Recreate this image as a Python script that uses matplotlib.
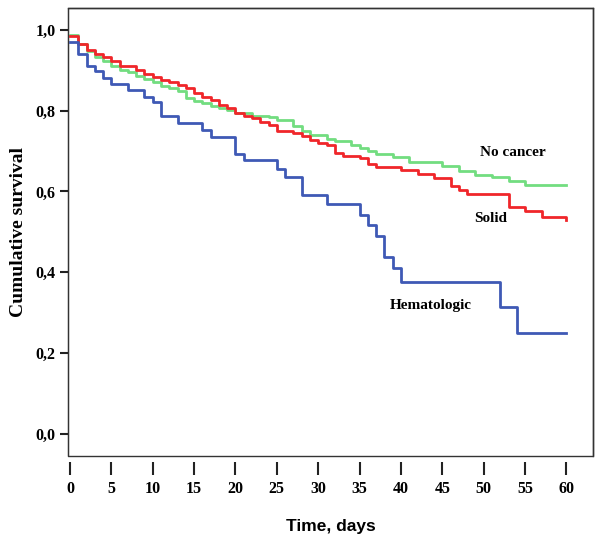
import matplotlib
matplotlib.use("Agg")
import matplotlib.pyplot as plt
from matplotlib.patches import Rectangle
from matplotlib.ticker import FuncFormatter

# step curves (day of drop, survival after drop)
hem_days = [0, 1, 2, 3, 4, 5, 7, 9, 10, 11, 13, 16, 17, 20, 21, 25, 26, 28, 31,
            35, 36, 37, 38, 39, 40, 52, 54, 60]
hem_surv = [0.970, 0.941, 0.911, 0.899, 0.880, 0.865, 0.851, 0.835, 0.821, 0.786,
            0.769, 0.752, 0.734, 0.694, 0.677, 0.655, 0.635, 0.592, 0.568,
            0.542, 0.516, 0.490, 0.437, 0.410, 0.377, 0.315, 0.251, 0.251]

solid_days = [0, 1, 2, 3, 4, 5, 6, 8, 9, 10, 11, 12, 13, 14, 15, 16, 17, 18, 19,
              20, 21, 22, 23, 24, 25, 27, 28, 29, 30, 31, 32, 33, 35, 36, 37, 40,
              42, 44, 46, 47, 48, 53, 55, 57, 60]
solid_surv = [0.985, 0.965, 0.949, 0.941, 0.932, 0.924, 0.911, 0.901, 0.891, 0.883,
              0.875, 0.870, 0.864, 0.855, 0.843, 0.835, 0.827, 0.814, 0.806,
              0.794, 0.788, 0.781, 0.773, 0.765, 0.750, 0.744, 0.737, 0.728, 0.721,
              0.715, 0.696, 0.688, 0.682, 0.668, 0.660, 0.652,
              0.644, 0.633, 0.614, 0.604, 0.594, 0.561, 0.551, 0.538, 0.530]

nocan_days = [0, 1, 2, 3, 4, 5, 6, 7, 8, 9, 10, 11, 12, 13, 14, 15, 16, 17, 18, 19,
              20, 22, 24, 25, 27, 28, 29, 31, 32, 34, 35, 36, 37, 39, 41,
              45, 47, 49, 51, 53, 55, 60]
nocan_surv = [0.988, 0.965, 0.947, 0.932, 0.922, 0.911, 0.901, 0.895, 0.886, 0.878,
              0.870, 0.861, 0.856, 0.848, 0.831, 0.825, 0.818, 0.812, 0.806, 0.802,
              0.794, 0.787, 0.784, 0.777, 0.762, 0.749, 0.740, 0.729, 0.724, 0.715,
              0.707, 0.699, 0.693, 0.686, 0.674,
              0.662, 0.650, 0.641, 0.637, 0.625, 0.615, 0.615]

x_ticks = [0, 5, 10, 15, 20, 25, 30, 35, 40, 45, 50, 55, 60]
y_ticks = [0.0, 0.2, 0.4, 0.6, 0.8, 1.0]

serif = ["Liberation Serif", "DejaVu Serif"]

fig = plt.figure(figsize=(6.0, 5.41), dpi=100)
ax = fig.add_axes([0.1133, 0.1571, 0.875, 0.8281])

ax.step(nocan_days, nocan_surv, where="post", color="#72dd80", lw=2.0)
ax.step(solid_days, solid_surv, where="post", color="#f0262a", lw=2.0)
ax.step(hem_days, hem_surv, where="post", color="#3f59b5", lw=2.0)

ax.set_xlim(-0.24, 63.2)
ax.set_ylim(-0.0545, 1.054)

# box frame drawn separately so x ticks can sit below it with a gap
for s in ["top", "right"]:
    ax.spines[s].set_color("#333333")
    ax.spines[s].set_linewidth(1.0)
ax.spines["left"].set_color("#333333")
ax.spines["bottom"].set_position(("outward", 4))
ax.spines["bottom"].set_visible(False)
ax.add_patch(Rectangle((0, 0), 1, 1, transform=ax.transAxes, fill=False,
                       edgecolor="#333333", lw=1.0, clip_on=False))

ax.set_xticks(x_ticks)
ax.set_yticks(y_ticks)
ax.yaxis.set_major_formatter(FuncFormatter(lambda v, p: f"{v:.1f}".replace(".", ",")))
ax.tick_params(axis="x", direction="out", length=9, width=1.5, pad=5, color="#222222")
ax.tick_params(axis="y", direction="out", length=6, width=1.5, pad=3, color="#222222")
for lab in ax.get_xticklabels() + ax.get_yticklabels():
    lab.set_family(serif)
    lab.set_fontweight("bold")
    lab.set_fontsize(11.5)

ax.set_ylabel("Cumulative survival", family=serif, fontweight="bold", fontsize=14, labelpad=6)
ax.set_xlabel("Time, days", family=["Liberation Sans", "DejaVu Sans"], fontweight="bold",
              fontsize=12.5, labelpad=16)

txt = dict(family=serif, fontweight="bold", fontsize=11, ha="center", va="center")
ax.text(53.5, 0.697, "No cancer", **txt)
ax.text(50.8, 0.532, "Solid", **txt)
ax.text(43.6, 0.317, "Hematologic", **txt)

fig.savefig("out.png", dpi=100)
